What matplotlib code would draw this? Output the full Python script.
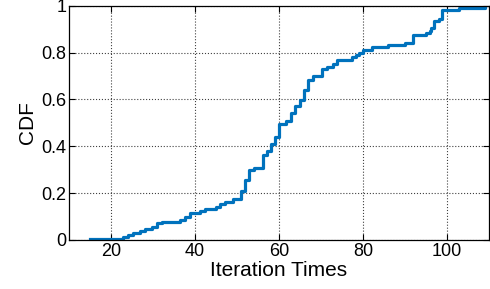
import matplotlib
matplotlib.use("Agg")
import matplotlib.pyplot as plt
from matplotlib.ticker import FuncFormatter

plt.rcParams['font.family'] = ['Liberation Sans', 'DejaVu Sans']

iter_times = [15.0, 22.8, 24.1, 25.3, 26.9, 28.1, 29.7, 31.0, 32.1, 36.4, 37.6, 38.8,
              41.2, 42.4, 45.0, 46.0, 47.1, 49.0, 51.0, 51.9, 52.9, 54.0, 56.1, 57.1,
              58.0, 59.0, 60.1, 61.7, 62.9, 63.9, 65.0, 66.0, 67.0, 68.0, 70.2, 71.5,
              72.9, 73.9, 77.3, 78.3, 79.1, 80.1, 82.1, 86.0, 89.9, 92.0, 94.9, 95.9,
              96.3, 97.0, 98.0, 98.8, 102.9, 109.0]
cdf_vals = [0.004, 0.011, 0.021, 0.028, 0.038, 0.045, 0.057, 0.071, 0.078, 0.085, 0.097, 0.113,
            0.125, 0.130, 0.142, 0.153, 0.163, 0.173, 0.209, 0.255, 0.298, 0.309, 0.362, 0.380,
            0.411, 0.440, 0.496, 0.508, 0.543, 0.570, 0.596, 0.641, 0.681, 0.698, 0.730, 0.740,
            0.752, 0.770, 0.780, 0.790, 0.800, 0.810, 0.826, 0.834, 0.840, 0.876, 0.884, 0.894,
            0.905, 0.933, 0.943, 0.982, 0.990, 0.994]
x_ticks = [20, 40, 60, 80, 100]
y_ticks = [0, 0.2, 0.4, 0.6, 0.8, 1]

fig = plt.figure(figsize=(4.9, 2.89), dpi=100)
ax = fig.add_axes([0.141, 0.170, 0.857, 0.810])
ax.step(iter_times, cdf_vals, where='post', color='#0072BD', linewidth=2.3)
ax.set_xlim(10, 110)
ax.set_ylim(0, 1)
ax.set_xticks(x_ticks)
ax.set_yticks(y_ticks)
ax.yaxis.set_major_formatter(FuncFormatter(lambda v, p: ('%g' % v)))
ax.grid(True, linestyle=':', color='black', linewidth=0.8, alpha=0.75)
ax.tick_params(direction='in', top=True, right=True, labelsize=13, length=4, pad=2)
for s in ax.spines.values():
    s.set_linewidth(0.9)
ax.set_xlabel('Iteration Times', fontsize=15, labelpad=1)
ax.set_ylabel('CDF', fontsize=15, labelpad=3)
fig.savefig('out.png', dpi=100)
